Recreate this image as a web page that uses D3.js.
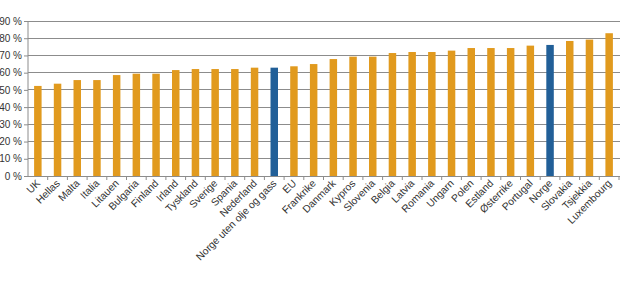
<!DOCTYPE html>
<html><head><meta charset="utf-8">
<script src="https://cdn.jsdelivr.net/npm/d3@7"></script>
<style>body{margin:0;background:#fff}svg{display:block}</style>
</head><body>
<svg id="c" width="620" height="282"></svg>
<script>
const categories = ["UK","Hellas","Malta","Italia","Litauen","Bulgaria","Finland","Irland","Tyskland","Sverige","Spania","Nederland","Norge uten olje og gass","EU","Frankrike","Danmark","Kypros","Slovenia","Belgia","Latvia","Romania","Ungarn","Polen","Estland","Østerrike","Portugal","Norge","Slovakia","Tsjekkia","Luxembourg"];
const values = [52.3,53.6,55.7,55.7,58.6,59.4,59.4,61.5,62.1,62.1,62.1,62.9,62.9,63.7,65.0,67.9,69.3,69.3,71.4,72.0,72.0,72.8,74.3,74.3,74.3,75.7,76.1,78.4,79.2,82.9];
const highlighted = ["Norge uten olje og gass","Norge"];
const yTicks = [0,10,20,30,40,50,60,70,80,90];

(function () {
const svg = d3.select("#c");
const left = 28, right = 619, topY = 21, bottom = 176;
const x = d3.scaleBand().domain(categories).range([left, right]).paddingInner(0.62).paddingOuter(0.31);
const xb = d3.scaleBand().domain(categories).range([left, right]);
const y = d3.scaleLinear().domain([0, 90]).range([bottom, topY]);
const font = "'Liberation Sans', Arial, sans-serif";

// gridlines
svg.append("g").selectAll("line").data(yTicks.filter(d => d > 0)).join("line")
  .attr("x1", left).attr("x2", 620).attr("y1", d => y(d)).attr("y2", d => y(d))
  .attr("stroke", "#8c8c8c").attr("stroke-width", 1).attr("shape-rendering", "crispEdges");

// bars
svg.append("g").selectAll("rect").data(categories).join("rect")
  .attr("x", d => x(d)).attr("width", x.bandwidth())
  .attr("y", (d, i) => y(values[i])).attr("height", (d, i) => y(0) - y(values[i]))
  .attr("fill", d => highlighted.includes(d) ? "#215f98" : "#e19a1e");

// y axis
const yAxis = d3.axisLeft(y).tickValues(yTicks).tickSize(4).tickPadding(2).tickFormat(d => d + " %");
const ga = svg.append("g").attr("transform", `translate(${left},0)`).call(yAxis);
ga.select(".domain").attr("stroke", "#8c8c8c").attr("d", `M0,${topY}V${bottom}`);
ga.selectAll(".tick line").attr("stroke", "#8c8c8c");
ga.selectAll("text").attr("font-family", font).attr("font-size", "10px").attr("fill", "#333");

// x axis baseline + ticks at band boundaries
svg.append("line").attr("x1", left).attr("x2", 620).attr("y1", bottom + 0.5).attr("y2", bottom + 0.5)
  .attr("stroke", "#8c8c8c");
svg.append("g").selectAll("line").data(categories.slice(1).concat(["__end"])).join("line")
  .attr("x1", d => d === "__end" ? right : xb(d)).attr("x2", d => d === "__end" ? right : xb(d))
  .attr("y1", bottom).attr("y2", bottom + 4).attr("stroke", "#8c8c8c");

// x labels
svg.append("g").selectAll("text").data(categories).join("text")
  .attr("transform", d => `translate(${x(d) + x.bandwidth() / 2 + 3},${bottom + 8}) rotate(-45)`)
  .attr("text-anchor", "end").attr("font-family", font).attr("font-size", "10.3px").attr("fill", "#333")
  .text(d => d);
})();
</script>
</body></html>
